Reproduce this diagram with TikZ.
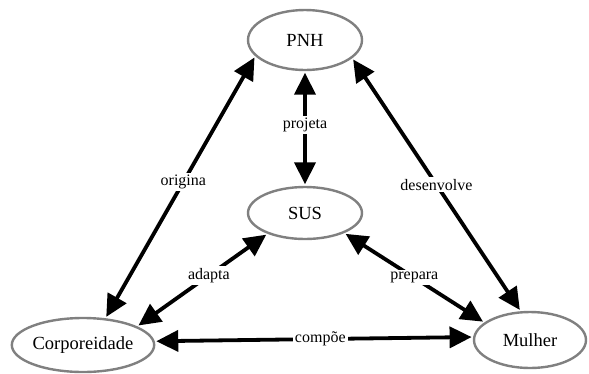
\documentclass[tikz,border=0pt]{standalone}
\usepackage{fontspec}
\setmainfont{Liberation Serif}
\usetikzlibrary{shapes.geometric,arrows.meta}
\begin{document}
\begin{tikzpicture}[x=1pt,y=-1pt,
  ent/.style={ellipse,draw=black!50,line width=2.4pt,fill=white,font=\fontsize{18.5}{20}\selectfont,inner sep=0pt},
  rel/.style={line width=3.8pt,{Triangle[length=22pt,width=21pt]}-{Triangle[length=22pt,width=21pt]},shorten <=1.5pt,shorten >=1.5pt},
  lab/.style={fill=white,inner sep=2pt,font=\fontsize{16}{18}\selectfont}]
\useasboundingbox (0,0) rectangle (589,373);
\node[ent,minimum width=114pt,minimum height=60pt] (pnh) at (305,40) {PNH};
\node[ent,minimum width=114pt,minimum height=52pt] (sus) at (305,213) {SUS};
\node[ent,minimum width=140pt,minimum height=54pt] (corp) at (83,345) {Corporeidade};
\node[ent,minimum width=112pt,minimum height=56pt] (mul) at (530,340) {Mulher};
\draw[rel] (pnh.198) -- node[lab,pos=0.48] {origina} (corp.50);
\draw[rel] (pnh.339) -- node[lab,pos=0.5] {desenvolve} (mul.108);
\draw[rel] (pnh.south) -- node[lab,pos=0.47] {projeta} (sus.north);
\draw[rel] (sus.209) -- node[lab,pos=0.45] {adapta} (corp.19);
\draw[rel] (sus.333) -- node[lab,pos=0.5] {prepara} (mul.159);
\draw[rel] (corp.3) -- node[lab,pos=0.52] {compõe} (mul.177);
\end{tikzpicture}
\end{document}
